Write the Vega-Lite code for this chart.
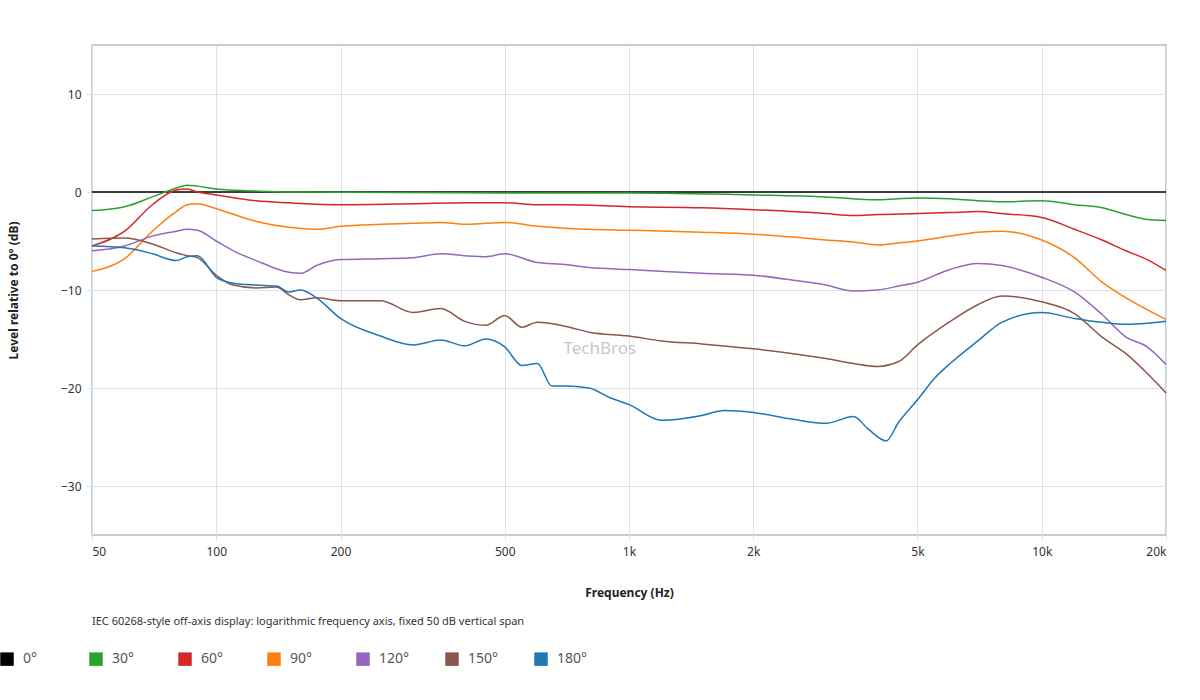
{
  "$schema": "https://vega.github.io/schema/vega-lite/v6.json",
  "width": 1074,
  "height": 490,
  "autosize": "none",
  "padding": {"left": 92, "top": 45, "right": 34, "bottom": 165},
  "background": "white",
  "title": {"text": "IEC 60268-style off-axis display: logarithmic frequency axis, fixed 50 dB vertical span", "orient": "bottom", "anchor": "start", "frame": "group", "fontSize": 11, "fontWeight": "normal", "color": "#333", "font": "Noto Sans", "offset": -62},
  "datasets": {
    "curves": [
      {"f": 50, "angle": "0°", "db": 0}, {"f": 20000, "angle": "0°", "db": 0},
      {"f": 50, "angle": "30°", "db": -1.9}, {"f": 60, "angle": "30°", "db": -1.5}, {"f": 70, "angle": "30°", "db": -0.5}, {"f": 80, "angle": "30°", "db": 0.4}, {"f": 85, "angle": "30°", "db": 0.7}, {"f": 90, "angle": "30°", "db": 0.6}, {"f": 100, "angle": "30°", "db": 0.3}, {"f": 125, "angle": "30°", "db": 0.1}, {"f": 150, "angle": "30°", "db": 0}, {"f": 500, "angle": "30°", "db": -0.1}, {"f": 1000, "angle": "30°", "db": -0.1}, {"f": 2000, "angle": "30°", "db": -0.3}, {"f": 3000, "angle": "30°", "db": -0.5}, {"f": 4000, "angle": "30°", "db": -0.8}, {"f": 5000, "angle": "30°", "db": -0.6}, {"f": 6000, "angle": "30°", "db": -0.7}, {"f": 7000, "angle": "30°", "db": -0.9}, {"f": 8000, "angle": "30°", "db": -1.0}, {"f": 10000, "angle": "30°", "db": -0.9}, {"f": 12000, "angle": "30°", "db": -1.3}, {"f": 14000, "angle": "30°", "db": -1.6}, {"f": 16000, "angle": "30°", "db": -2.3}, {"f": 18000, "angle": "30°", "db": -2.8}, {"f": 20000, "angle": "30°", "db": -2.9},
      {"f": 50, "angle": "60°", "db": -5.5}, {"f": 60, "angle": "60°", "db": -4}, {"f": 70, "angle": "60°", "db": -1.3}, {"f": 80, "angle": "60°", "db": 0.2}, {"f": 85, "angle": "60°", "db": 0.3}, {"f": 90, "angle": "60°", "db": 0}, {"f": 100, "angle": "60°", "db": -0.3}, {"f": 125, "angle": "60°", "db": -0.9}, {"f": 150, "angle": "60°", "db": -1.1}, {"f": 200, "angle": "60°", "db": -1.3}, {"f": 300, "angle": "60°", "db": -1.2}, {"f": 400, "angle": "60°", "db": -1.1}, {"f": 500, "angle": "60°", "db": -1.1}, {"f": 600, "angle": "60°", "db": -1.3}, {"f": 700, "angle": "60°", "db": -1.3}, {"f": 1000, "angle": "60°", "db": -1.5}, {"f": 1500, "angle": "60°", "db": -1.6}, {"f": 2000, "angle": "60°", "db": -1.8}, {"f": 3000, "angle": "60°", "db": -2.2}, {"f": 3500, "angle": "60°", "db": -2.4}, {"f": 4000, "angle": "60°", "db": -2.3}, {"f": 5000, "angle": "60°", "db": -2.2}, {"f": 6000, "angle": "60°", "db": -2.1}, {"f": 7000, "angle": "60°", "db": -2.0}, {"f": 8000, "angle": "60°", "db": -2.2}, {"f": 10000, "angle": "60°", "db": -2.6}, {"f": 12000, "angle": "60°", "db": -3.8}, {"f": 14000, "angle": "60°", "db": -4.9}, {"f": 16000, "angle": "60°", "db": -6.0}, {"f": 18000, "angle": "60°", "db": -6.9}, {"f": 20000, "angle": "60°", "db": -8.0},
      {"f": 50, "angle": "90°", "db": -8.1}, {"f": 60, "angle": "90°", "db": -6.8}, {"f": 70, "angle": "90°", "db": -4}, {"f": 80, "angle": "90°", "db": -2}, {"f": 85, "angle": "90°", "db": -1.3}, {"f": 90, "angle": "90°", "db": -1.2}, {"f": 100, "angle": "90°", "db": -1.7}, {"f": 125, "angle": "90°", "db": -3.0}, {"f": 150, "angle": "90°", "db": -3.6}, {"f": 175, "angle": "90°", "db": -3.8}, {"f": 200, "angle": "90°", "db": -3.5}, {"f": 250, "angle": "90°", "db": -3.3}, {"f": 300, "angle": "90°", "db": -3.2}, {"f": 350, "angle": "90°", "db": -3.1}, {"f": 400, "angle": "90°", "db": -3.3}, {"f": 450, "angle": "90°", "db": -3.2}, {"f": 500, "angle": "90°", "db": -3.1}, {"f": 600, "angle": "90°", "db": -3.5}, {"f": 700, "angle": "90°", "db": -3.7}, {"f": 800, "angle": "90°", "db": -3.8}, {"f": 1000, "angle": "90°", "db": -3.9}, {"f": 1500, "angle": "90°", "db": -4.1}, {"f": 2000, "angle": "90°", "db": -4.3}, {"f": 2500, "angle": "90°", "db": -4.6}, {"f": 3000, "angle": "90°", "db": -4.9}, {"f": 3500, "angle": "90°", "db": -5.1}, {"f": 4000, "angle": "90°", "db": -5.4}, {"f": 4500, "angle": "90°", "db": -5.2}, {"f": 5000, "angle": "90°", "db": -5.0}, {"f": 6000, "angle": "90°", "db": -4.5}, {"f": 7000, "angle": "90°", "db": -4.1}, {"f": 8000, "angle": "90°", "db": -4.0}, {"f": 10000, "angle": "90°", "db": -4.9}, {"f": 12000, "angle": "90°", "db": -6.7}, {"f": 14000, "angle": "90°", "db": -9.2}, {"f": 16000, "angle": "90°", "db": -10.8}, {"f": 18000, "angle": "90°", "db": -12}, {"f": 20000, "angle": "90°", "db": -13.0},
      {"f": 50, "angle": "120°", "db": -6.0}, {"f": 60, "angle": "120°", "db": -5.5}, {"f": 70, "angle": "120°", "db": -4.5}, {"f": 80, "angle": "120°", "db": -4.0}, {"f": 85, "angle": "120°", "db": -3.8}, {"f": 90, "angle": "120°", "db": -3.9}, {"f": 100, "angle": "120°", "db": -5}, {"f": 110, "angle": "120°", "db": -6}, {"f": 125, "angle": "120°", "db": -7}, {"f": 150, "angle": "120°", "db": -8.2}, {"f": 160, "angle": "120°", "db": -8.3}, {"f": 175, "angle": "120°", "db": -7.5}, {"f": 200, "angle": "120°", "db": -6.9}, {"f": 250, "angle": "120°", "db": -6.8}, {"f": 300, "angle": "120°", "db": -6.7}, {"f": 350, "angle": "120°", "db": -6.3}, {"f": 400, "angle": "120°", "db": -6.5}, {"f": 450, "angle": "120°", "db": -6.6}, {"f": 500, "angle": "120°", "db": -6.3}, {"f": 600, "angle": "120°", "db": -7.2}, {"f": 700, "angle": "120°", "db": -7.4}, {"f": 800, "angle": "120°", "db": -7.7}, {"f": 1000, "angle": "120°", "db": -7.9}, {"f": 1500, "angle": "120°", "db": -8.3}, {"f": 2000, "angle": "120°", "db": -8.5}, {"f": 2500, "angle": "120°", "db": -9.0}, {"f": 3000, "angle": "120°", "db": -9.5}, {"f": 3500, "angle": "120°", "db": -10.1}, {"f": 4000, "angle": "120°", "db": -10.0}, {"f": 4500, "angle": "120°", "db": -9.6}, {"f": 5000, "angle": "120°", "db": -9.2}, {"f": 6000, "angle": "120°", "db": -7.9}, {"f": 7000, "angle": "120°", "db": -7.3}, {"f": 8000, "angle": "120°", "db": -7.5}, {"f": 10000, "angle": "120°", "db": -8.7}, {"f": 12000, "angle": "120°", "db": -10.2}, {"f": 14000, "angle": "120°", "db": -12.5}, {"f": 16000, "angle": "120°", "db": -14.8}, {"f": 18000, "angle": "120°", "db": -15.8}, {"f": 20000, "angle": "120°", "db": -17.6},
      {"f": 50, "angle": "150°", "db": -4.8}, {"f": 60, "angle": "150°", "db": -4.7}, {"f": 70, "angle": "150°", "db": -5.3}, {"f": 80, "angle": "150°", "db": -6.2}, {"f": 85, "angle": "150°", "db": -6.5}, {"f": 90, "angle": "150°", "db": -6.7}, {"f": 100, "angle": "150°", "db": -8.5}, {"f": 110, "angle": "150°", "db": -9.5}, {"f": 125, "angle": "150°", "db": -9.8}, {"f": 140, "angle": "150°", "db": -9.7}, {"f": 150, "angle": "150°", "db": -10.5}, {"f": 160, "angle": "150°", "db": -11.0}, {"f": 175, "angle": "150°", "db": -10.8}, {"f": 200, "angle": "150°", "db": -11.1}, {"f": 250, "angle": "150°", "db": -11.1}, {"f": 300, "angle": "150°", "db": -12.3}, {"f": 350, "angle": "150°", "db": -11.9}, {"f": 400, "angle": "150°", "db": -13.2}, {"f": 450, "angle": "150°", "db": -13.6}, {"f": 500, "angle": "150°", "db": -12.6}, {"f": 550, "angle": "150°", "db": -13.8}, {"f": 600, "angle": "150°", "db": -13.3}, {"f": 700, "angle": "150°", "db": -13.7}, {"f": 800, "angle": "150°", "db": -14.3}, {"f": 1000, "angle": "150°", "db": -14.7}, {"f": 1200, "angle": "150°", "db": -15.2}, {"f": 1500, "angle": "150°", "db": -15.5}, {"f": 2000, "angle": "150°", "db": -16.0}, {"f": 2500, "angle": "150°", "db": -16.5}, {"f": 3000, "angle": "150°", "db": -17.0}, {"f": 3500, "angle": "150°", "db": -17.5}, {"f": 4000, "angle": "150°", "db": -17.8}, {"f": 4500, "angle": "150°", "db": -17.3}, {"f": 5000, "angle": "150°", "db": -15.6}, {"f": 6000, "angle": "150°", "db": -13.2}, {"f": 7000, "angle": "150°", "db": -11.5}, {"f": 8000, "angle": "150°", "db": -10.6}, {"f": 10000, "angle": "150°", "db": -11.2}, {"f": 12000, "angle": "150°", "db": -12.4}, {"f": 14000, "angle": "150°", "db": -14.8}, {"f": 16000, "angle": "150°", "db": -16.5}, {"f": 18000, "angle": "150°", "db": -18.5}, {"f": 20000, "angle": "150°", "db": -20.5},
      {"f": 50, "angle": "180°", "db": -5.5}, {"f": 60, "angle": "180°", "db": -5.7}, {"f": 70, "angle": "180°", "db": -6.3}, {"f": 80, "angle": "180°", "db": -7.0}, {"f": 85, "angle": "180°", "db": -6.6}, {"f": 90, "angle": "180°", "db": -6.5}, {"f": 100, "angle": "180°", "db": -8.7}, {"f": 110, "angle": "180°", "db": -9.3}, {"f": 125, "angle": "180°", "db": -9.5}, {"f": 140, "angle": "180°", "db": -9.6}, {"f": 150, "angle": "180°", "db": -10.2}, {"f": 160, "angle": "180°", "db": -10.0}, {"f": 175, "angle": "180°", "db": -10.8}, {"f": 200, "angle": "180°", "db": -12.9}, {"f": 250, "angle": "180°", "db": -14.7}, {"f": 300, "angle": "180°", "db": -15.6}, {"f": 350, "angle": "180°", "db": -15.1}, {"f": 400, "angle": "180°", "db": -15.7}, {"f": 450, "angle": "180°", "db": -15.0}, {"f": 500, "angle": "180°", "db": -15.8}, {"f": 550, "angle": "180°", "db": -17.7}, {"f": 600, "angle": "180°", "db": -17.5}, {"f": 650, "angle": "180°", "db": -19.8}, {"f": 700, "angle": "180°", "db": -19.8}, {"f": 800, "angle": "180°", "db": -20.0}, {"f": 900, "angle": "180°", "db": -21.0}, {"f": 1000, "angle": "180°", "db": -21.7}, {"f": 1200, "angle": "180°", "db": -23.3}, {"f": 1500, "angle": "180°", "db": -22.8}, {"f": 1700, "angle": "180°", "db": -22.3}, {"f": 2000, "angle": "180°", "db": -22.5}, {"f": 2500, "angle": "180°", "db": -23.2}, {"f": 3000, "angle": "180°", "db": -23.6}, {"f": 3500, "angle": "180°", "db": -22.9}, {"f": 3800, "angle": "180°", "db": -24.2}, {"f": 4200, "angle": "180°", "db": -25.4}, {"f": 4500, "angle": "180°", "db": -23.5}, {"f": 5000, "angle": "180°", "db": -21.2}, {"f": 5500, "angle": "180°", "db": -19}, {"f": 6000, "angle": "180°", "db": -17.5}, {"f": 7000, "angle": "180°", "db": -15.2}, {"f": 8000, "angle": "180°", "db": -13.3}, {"f": 10000, "angle": "180°", "db": -12.3}, {"f": 12000, "angle": "180°", "db": -12.9}, {"f": 14000, "angle": "180°", "db": -13.3}, {"f": 16000, "angle": "180°", "db": -13.5}, {"f": 18000, "angle": "180°", "db": -13.4}, {"f": 20000, "angle": "180°", "db": -13.2}
    ],
    "mark": [{"f": 850, "db": -16, "label": "TechBros"}]
  },
  "encoding": {
    "x": {"field": "f", "type": "quantitative", "title": "Frequency (Hz)",
      "scale": {"type": "log", "domain": [50, 20000], "nice": false},
      "axis": {"values": [50, 100, 200, 500, 1000, 2000, 5000, 10000, 20000], "labelExpr": "datum.value >= 1000 ? datum.value / 1000 + 'k' : datum.value", "titlePadding": 30}},
    "y": {"field": "db", "type": "quantitative", "title": "Level relative to 0° (dB)",
      "scale": {"domain": [-35, 15], "nice": false},
      "axis": {"values": [-30, -20, -10, 0, 10], "titlePadding": 40}}
  },
  "layer": [
    {
      "data": {"name": "mark"},
      "mark": {"type": "text", "fontSize": 17, "color": "#c8c8c8", "font": "Noto Sans"},
      "encoding": {"text": {"field": "label"}}
    },
    {
      "data": {"name": "curves"},
      "mark": {"type": "line", "strokeWidth": 1.5, "interpolate": "monotone"},
      "encoding": {
        "color": {"field": "angle", "type": "nominal", "title": null,
          "scale": {"domain": ["0°", "30°", "60°", "90°", "120°", "150°", "180°"], "range": ["#000000", "#2ca02c", "#d62728", "#ff7f0e", "#9467bd", "#8c564b", "#1f77b4"]},
          "legend": {"orient": "none", "legendX": -92, "legendY": 607, "direction": "horizontal", "columns": 7, "gridAlign": "all", "symbolType": "square", "symbolStrokeWidth": 8, "symbolSize": 30, "symbolOpacity": 1, "columnPadding": 23, "labelFontSize": 14, "labelOffset": 9, "labelColor": "#555", "labelLimit": 60}},
        "strokeWidth": {"condition": {"test": "datum.angle === '0°'", "value": 2.5}, "value": 1.5}
      }
    }
  ],
  "config": {
    "font": "Noto Sans",
    "view": {"stroke": "#b0bec5", "strokeWidth": 1.5},
    "axis": {"gridColor": "#dde2e6", "domain": false, "tickColor": "#dde2e6", "labelColor": "#333", "labelFontSize": 12, "titleFontSize": 12, "titleFontWeight": "bold", "titleColor": "#222", "labelPadding": 6}
  }
}
